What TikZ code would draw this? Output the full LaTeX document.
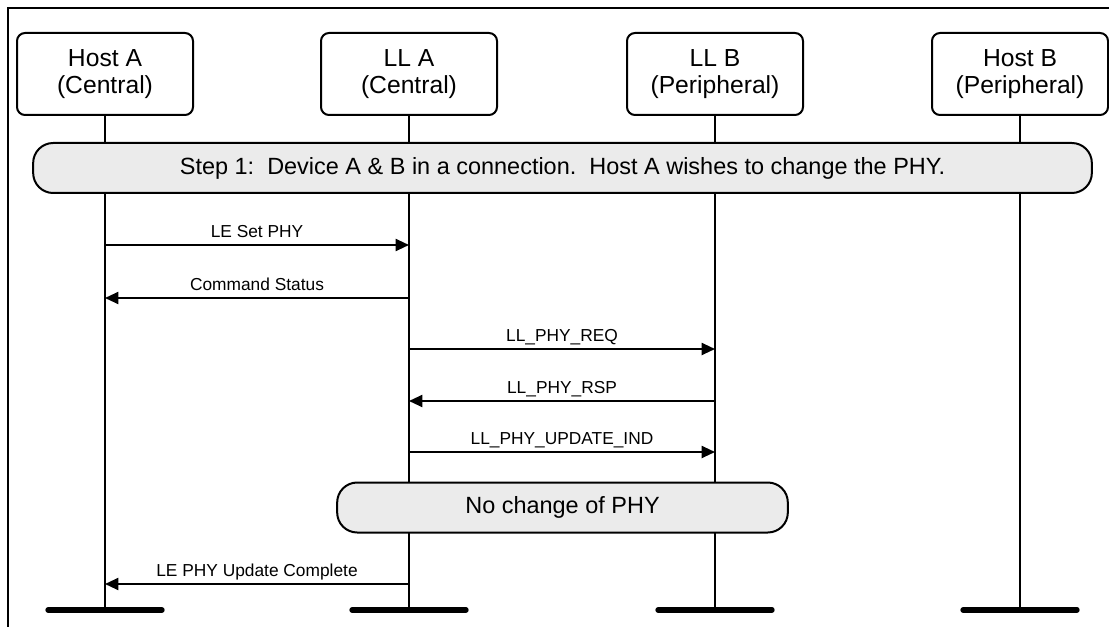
\documentclass[tikz,border=0pt]{standalone}
\usepackage{fontspec}
\setmainfont{Liberation Sans}
\usepackage{tikz}
\usetikzlibrary{arrows.meta,positioning,calc}
\definecolor{seqgrey}{HTML}{EBEBEB}

\begin{document}
\begin{tikzpicture}[x=0.75pt,y=-0.75pt,
  head/.style={draw,line width=1.5pt,rounded corners=6pt,align=center,
    minimum width=132pt,minimum height=61.5pt,inner sep=0pt,
    font=\fontsize{18.5}{20}\selectfont},
  life/.style={line width=1.6pt},
  bar/.style={line width=4pt,line cap=round},
  phase/.style={draw,line width=1.5pt,fill=seqgrey,rounded corners=15pt,
    minimum height=37.5pt,inner sep=0pt,font=\fontsize{17.6}{20}\selectfont},
  msg/.style={-{Triangle[length=10pt,width=9pt]},line width=1.5pt,
    font=\fontsize{13}{15}\selectfont},
  lbl/.style={midway,above=5pt,inner sep=0pt,text depth=0pt}]
  \useasboundingbox (0,0) rectangle (1109,627);
  % outer frame -- cut off at the right and bottom edges
  \draw[line width=1.6pt] (8,627) -- (8,8) -- (1109,8);
  \coordinate (bot) at (0,610);
  % lifelines -- head box, line down, bar at the foot
  \foreach \x/\name/\txt in {105/hostA/{Host A\\(Central)}, 409/llA/{LL A\\(Central)},
                             715/llB/{LL B\\(Peripheral)}, 1020/hostB/{Host B\\(Peripheral)}}{
    \node[head] (\name) at (\x,74) {\txt};
    \draw[life] (\name.south) -- (\name |- bot);
    \draw[bar] ($(\name |- bot)+(-57,0)$) -- ($(\name |- bot)+(57,0)$);}
  % phases
  \node[phase,minimum width=794pt] (step) at (562.5,168)
       {Step 1:\ \ Device A \& B in a connection.\ \ Host A wishes to change the PHY.};
  \node[phase,minimum width=338pt] (nochg) at (562.5,507.5) {No change of PHY};
  % messages -- one row each
  \foreach \n/\y in {1/245,2/298,3/349,4/401,5/452,6/584}
    \coordinate (r\n) at (0,\y);
  \draw[msg] (hostA |- r1) -- node[lbl]{LE Set PHY} (llA |- r1);
  \draw[msg] (llA |- r2) -- node[lbl]{Command Status} (hostA |- r2);
  \draw[msg] (llA |- r3) -- node[lbl]{LL\_PHY\_REQ} (llB |- r3);
  \draw[msg] (llB |- r4) -- node[lbl]{LL\_PHY\_RSP} (llA |- r4);
  \draw[msg] (llA |- r5) -- node[lbl]{LL\_PHY\_UPDATE\_IND} (llB |- r5);
  \draw[msg] (llA |- r6) -- node[lbl]{LE PHY Update Complete} (hostA |- r6);
\end{tikzpicture}
\end{document}
